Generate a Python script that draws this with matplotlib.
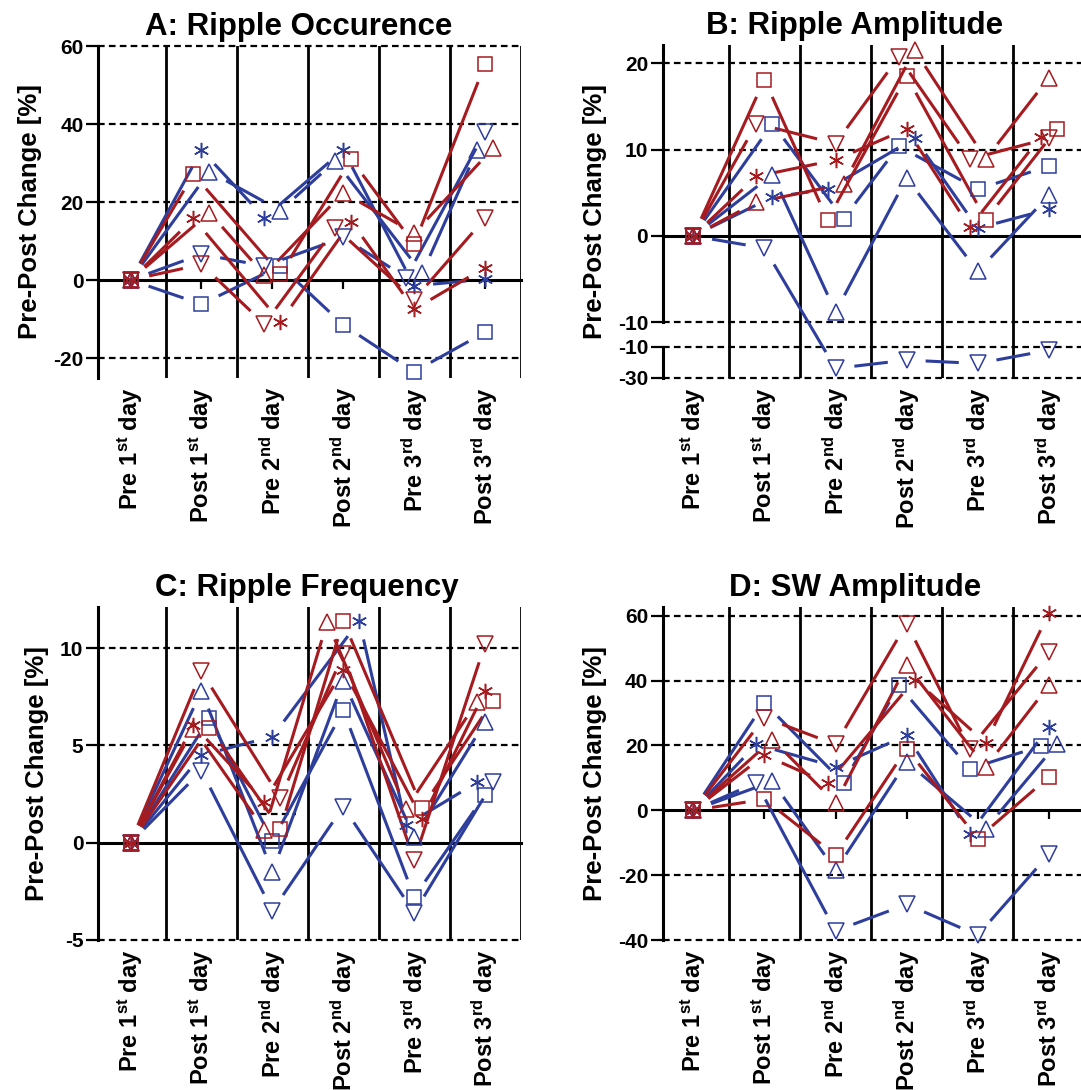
import numpy as np
import matplotlib.pyplot as plt
from matplotlib import transforms

plt.rcParams['font.family'] = ['Liberation Sans', 'DejaVu Sans']
plt.rcParams['font.weight'] = 'bold'
plt.rcParams['mathtext.fontset'] = 'custom'
plt.rcParams['mathtext.rm'] = 'Liberation Sans:bold'
plt.rcParams['mathtext.it'] = 'Liberation Sans:bold'
plt.rcParams['mathtext.bf'] = 'Liberation Sans:bold'

# session labels
days = [r'Pre $1^{st}$ day', r'Post $1^{st}$ day', r'Pre $2^{nd}$ day',
        r'Post $2^{nd}$ day', r'Pre $3^{rd}$ day', r'Post $3^{rd}$ day']

# animals: 4 blue, 4 red, one marker each
animal_color = ['blue'] * 4 + ['red'] * 4
animal_marker = ['sq', 'up', 'down', 'ast'] * 2

# % change per animal (rows) and session (columns)
occurrence = [
    [0, -6.2, 3.6, -11.5, -23.5, -13.4],
    [0, 27.8, 17.8, 30.5, 1.7, 33.3],
    [0, 6.6, 3.6, 10.9, 0.6, 38.0],
    [0, 33.3, 16.0, 33.3, -1.5, 0.2],
    [0, 27.1, 1.5, 30.9, 9.2, 55.3],
    [0, 17.3, 1.3, 22.4, 12.0, 33.8],
    [0, 4.0, -11.3, 13.4, -5.0, 15.8],
    [0, 15.8, -10.7, 15.0, -7.5, 3.2],
]
amplitude = [
    [0, 13.0, 2.0, 10.4, 5.4, 8.1],
    [0, 7.1, -8.8, 6.7, -4.1, 4.7],
    [0, -1.4, -24.0, -18.6, -20.8, -12.2],
    [0, 4.5, 5.4, 11.3, 0.9, 3.1],
    [0, 18.1, 1.9, 18.5, 1.9, 12.4],
    [0, 3.9, 6.0, 21.5, 8.9, 18.3],
    [0, 13.0, 10.7, 20.7, 8.9, 11.3],
    [0, 6.9, 8.8, 12.4, 1.0, 11.5],
]
frequency = [
    [0, 6.4, 0.1, 6.8, -2.8, 2.45],
    [0, 7.8, -1.5, 8.3, 0.3, 6.2],
    [0, 3.7, -3.5, 1.85, -3.6, 3.1],
    [0, 4.5, 5.45, 11.4, 0.9, 3.1],
    [0, 5.9, 0.7, 11.4, 1.8, 7.3],
    [0, 5.85, 0.65, 11.35, 1.75, 7.25],
    [0, 8.8, 2.3, 9.7, -0.9, 10.2],
    [0, 6.05, 2.1, 8.9, 1.2, 7.8],
]
sw_amplitude = [
    [0, 33.1, 8.5, 38.5, 12.8, 19.8],
    [0, 8.9, -18.5, 14.9, -5.7, 20.5],
    [0, 8.5, -37.2, -29.0, -38.5, -13.6],
    [0, 20.3, 13.4, 23.1, -7.2, 25.7],
    [0, 3.4, -13.9, 19.0, -8.7, 10.3],
    [0, 21.8, 2.3, 44.7, 13.4, 38.5],
    [0, 28.6, 20.3, 57.6, 19.0, 48.8],
    [0, 17.0, 8.4, 40.3, 20.8, 60.8],
]

COLORS = {'blue': '#2E3E9C', 'red': '#A51B20'}
MARKERS = {'sq': ('s', 10), 'up': ('^', 11), 'down': ('v', 11), 'ast': ((6, 2, 0), 11)}

W, H = 1081, 1090
fig = plt.figure(figsize=(W / 100, H / 100), dpi=100)


def add_panel(left, top, right, bottom):
    return fig.add_axes([left / W, 1 - bottom / H, (right - left) / W, (bottom - top) / H])


# broken y axis for amplitude: -30..-10 squeezed under -10..22
BRK, GAP, SQZ = -10.0, 2.82, 0.179


def fwd(v):
    v = np.asarray(v, dtype=float)
    return np.where(v >= BRK, v, BRK - GAP - (BRK - v) * SQZ)


def inv(u):
    u = np.asarray(u, dtype=float)
    return np.where(u >= BRK, u,
                    np.where(u <= BRK - GAP, BRK - (BRK - GAP - u) / SQZ, BRK))


def spread(ax, vals, step=16, thr=8):
    # push overlapping points sideways within a column (pixel units)
    y = ax.transData.transform(np.column_stack([np.zeros(len(vals)), vals]))[:, 1]
    order = sorted(range(len(vals)), key=lambda i: (-y[i], i))
    groups, cur = [], [order[0]]
    for i in order[1:]:
        if abs(y[i] - y[cur[0]]) < thr:
            cur.append(i)
        else:
            groups.append(cur)
            cur = [i]
    groups.append(cur)
    off = np.zeros(len(vals))
    for g in groups:
        g = sorted(g, key=lambda i: (vals[i], -i))
        for k, i in enumerate(g):
            off[i] = (k - (len(g) - 1) / 2) * step
    return off


def draw_panel(ax, title, title_x, data, xlim, ylim, yticks, ylabels, dashed, zero_ticks):
    ax.set_xlim(*xlim)
    ax.set_ylim(*ylim)

    for k in np.arange(0.5, 6, 1):
        ax.axvline(k, color='black', lw=2, zorder=1)
    for y in dashed:
        ax.axhline(y, color='black', lw=1.6, ls=(0, (3, 1.9)), zorder=1, clip_on=False)

    for s in ['top', 'right']:
        ax.spines[s].set_visible(False)
    ax.spines['left'].set_linewidth(2.2)
    ax.spines['bottom'].set_position(('data', 0))
    ax.spines['bottom'].set_linewidth(2.2)

    ax.set_yticks(yticks)
    ax.set_yticklabels(ylabels)
    ax.tick_params(axis='y', direction='out', length=8.5, width=1.6, labelsize=15, pad=2)
    ax.set_xticks(range(6))
    ax.tick_params(axis='x', direction='out', length=6.5 if zero_ticks else 0,
                   width=1.6, labelbottom=False)
    for i, d in enumerate(days):
        ax.annotate(d, xy=(i, 0), xycoords=('data', 'axes fraction'), xytext=(0, -7),
                    textcoords='offset points', rotation=90, ha='center', va='top',
                    fontsize=17, fontweight='bold')

    ax.set_title(title, fontsize=22.5, fontweight='bold', x=title_x, pad=8)
    ax.set_ylabel('Pre-Post Change [%]', fontsize=18.5, fontweight='bold', labelpad=8)

    vals = np.array(data, dtype=float)
    n_animals, n_days = vals.shape
    px_per_day = ax.transData.transform((1, 0))[0] - ax.transData.transform((0, 0))[0]
    xs = np.tile(np.arange(n_days, dtype=float), (n_animals, 1))
    for j in range(1, n_days):
        xs[:, j] += spread(ax, vals[:, j]) / px_per_day

    gap = 19
    to_axes = ax.transAxes.inverted()
    for a in range(n_animals):
        col = COLORS[animal_color[a]]
        pts = ax.transData.transform(np.column_stack([xs[a], vals[a]]))
        for j in range(n_days - 1):
            p0, p1 = pts[j], pts[j + 1]
            d = p1 - p0
            L = np.hypot(*d)
            if L <= 2 * gap:
                continue
            seg = to_axes.transform([p0 + d * gap / L, p1 - d * gap / L])
            ax.plot(seg[:, 0], seg[:, 1], color=col, lw=2.2, solid_capstyle='butt',
                    transform=ax.transAxes, zorder=3, clip_on=False)
    for a in range(n_animals):
        col = COLORS[animal_color[a]]
        m, ms = MARKERS[animal_marker[a]]
        ax.plot(xs[a], vals[a], ls='none', marker=m, ms=ms, mfc='none', mec=col,
                mew=1.1, zorder=4, clip_on=False)


axA = add_panel(98, 46, 520.5, 377.5)
draw_panel(axA, 'A: Ripple Occurence', 0.476, occurrence, (-0.46, 5.5), (-25, 60),
           [-20, 0, 20, 40, 60], ['-20', '0', '20', '40', '60'], [-20, 20, 40, 60], True)

axB = add_panel(662.7, 45, 1088, 377.7)
axB.set_yscale('function', functions=(fwd, inv))
low10 = BRK - 1e-6
draw_panel(axB, 'B: Ripple Amplitude', 0.452, amplitude, (-0.43, 5.55), (-30, 22.1),
           [-30, low10, -10, 0, 10, 20], ['-30', '-10', '-10', '0', '10', '20'],
           [-30, low10, -10, 10, 20], False)
axB.spines['left'].set_bounds(-10, 22.1)
axB.plot([0, 0], [-30, low10], color='black', lw=2.2, clip_on=False, zorder=2.5,
         transform=transforms.blended_transform_factory(axB.transAxes, axB.transData))

axC = add_panel(98, 607.3, 520.5, 939.9)
draw_panel(axC, 'C: Ripple Frequency', 0.495, frequency, (-0.46, 5.5), (-5, 12.1),
           [-5, 0, 5, 10], ['-5', '0', '5', '10'], [-5, 5, 10], False)
axC.hlines(1.47, 1.83, 2.33, color='black', lw=1.6, ls=(0, (3, 1.9)), zorder=1)

axD = add_panel(662.7, 607.3, 1088, 940)
draw_panel(axD, 'D: SW Amplitude', 0.452, sw_amplitude, (-0.43, 5.55), (-40, 62.6),
           [-40, -20, 0, 20, 40, 60], ['-40', '-20', '0', '20', '40', '60'],
           [-40, -20, 20, 40, 60], True)

fig.savefig('out.png', dpi=100)
